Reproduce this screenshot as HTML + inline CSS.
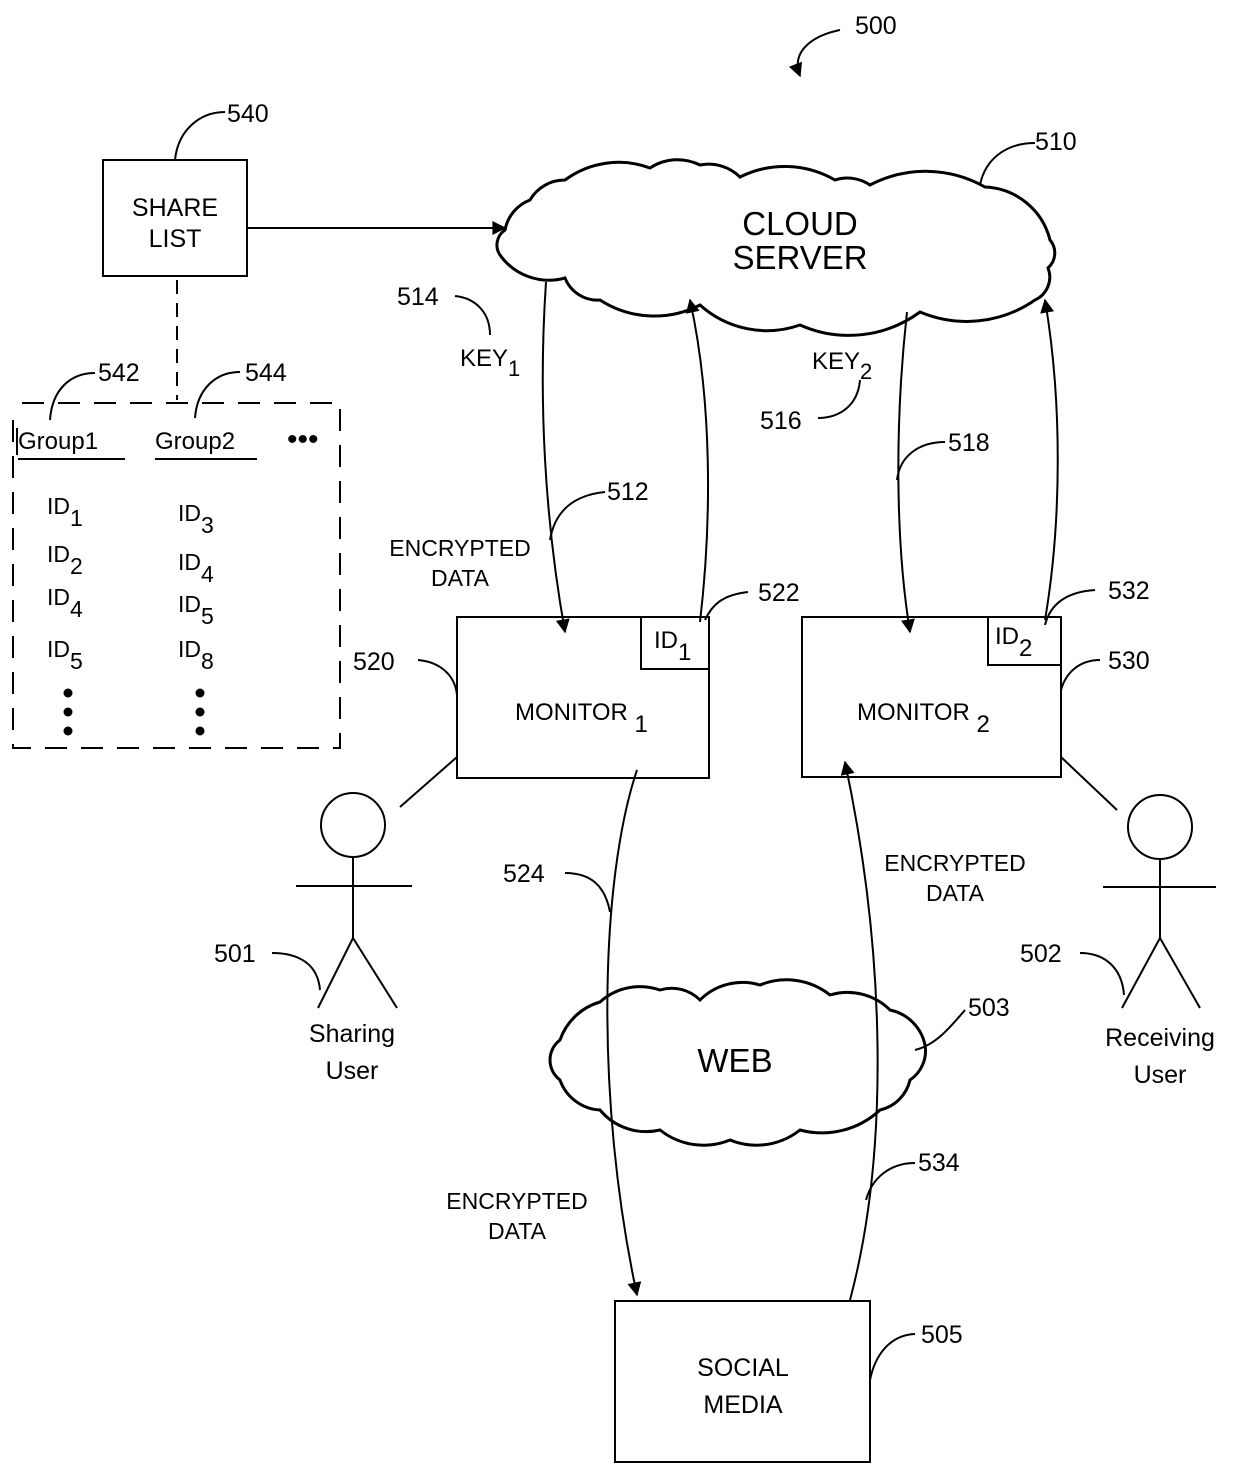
<!DOCTYPE html>
<html><head><meta charset="utf-8"><style>
html,body{margin:0;padding:0;background:#fff}
svg{display:block}
text{font-family:"Liberation Sans",sans-serif;fill:#000}
</style></head><body>
<svg width="1240" height="1477" viewBox="0 0 1240 1477" xmlns="http://www.w3.org/2000/svg">
<defs>
<marker id="ahb" viewBox="0 0 10 10" refX="9" refY="5" markerWidth="22" markerHeight="14" markerUnits="userSpaceOnUse" orient="auto">
<path d="M0,0 L10,5 L0,10 Z" fill="#000"/></marker>
</defs>
<g fill="none" stroke="#000" stroke-width="2">
<path d="M840,30 C815,35 790,50 800,76" marker-end="url(#ahb)"/>
<rect x="103" y="160" width="144" height="116"/>
<path d="M175,160 C178,130 200,112 225,112"/>
<path d="M247,228 L505,228" marker-end="url(#ahb)"/>
<path d="M177,280 L177,400" stroke-dasharray="14,9"/>
<path d="M22,403 L340,403 L340,748 L13,748 L13,420" stroke-dasharray="22,14"/>
<path d="M18,459 L125,459 M155,459 L257,459"/>
<path d="M17,428 L17,455" />
<path d="M50,420 C52,390 70,373 95,373"/>
<path d="M195,418 C197,390 215,372 240,372"/>
<path stroke-width="3" d="M505,230 A40,40 0 0 1 530,200 A40,40 0 0 1 565,180 A90,90 0 0 1 650,168 A50,50 0 0 1 700,165 A45,45 0 0 1 740,177 A100,100 0 0 1 835,180 A40,40 0 0 1 870,185 A120,120 0 0 1 985,187 A70,70 0 0 1 1050,240 A20,20 0 0 1 1048,268 A25,25 0 0 1 1035,300 A120,120 0 0 1 920,312 A120,120 0 0 1 800,325 A100,100 0 0 1 700,305 A100,100 0 0 1 600,300 A35,35 0 0 1 565,278 A60,60 0 0 1 500,255 A18,18 0 0 1 505,230 Z"/>
<path d="M980,185 C985,160 1005,143 1035,143"/>
<path d="M546,282 C538,400 545,520 565,632" marker-end="url(#ahb)"/>
<path d="M700,622 C712,520 712,400 690,300" marker-end="url(#ahb)"/>
<path d="M907,312 C895,420 895,540 910,632" marker-end="url(#ahb)"/>
<path d="M1045,620 C1062,520 1062,400 1045,300" marker-end="url(#ahb)"/>
<path d="M455,296 C475,298 490,312 490,335"/>
<path d="M818,418 C840,418 858,405 860,380"/>
<path d="M945,442 C920,442 900,455 897,480"/>
<path d="M605,492 C575,495 555,510 550,540"/>
<path d="M705,620 C712,605 722,595 748,592"/>
<path d="M1045,625 C1050,605 1065,592 1095,590"/>
<path d="M418,660 C440,662 455,675 457,695"/>
<path d="M1061,690 C1066,672 1080,660 1100,660"/>
<rect x="457" y="617" width="252" height="161"/>
<rect x="641" y="617" width="68" height="52"/>
<rect x="802" y="617" width="259" height="160"/>
<rect x="988" y="617" width="73" height="48"/>
<path d="M400,807 L457,757 M1061,757 L1117,810"/>
<circle cx="353" cy="825" r="32"/>
<path d="M353,857 L353,938 M296,886 L412,886 M353,938 L318,1008 M353,938 L397,1008"/>
<circle cx="1160" cy="827" r="32"/>
<path d="M1160,859 L1160,938 M1103,887 L1216,887 M1160,938 L1122,1008 M1160,938 L1200,1008"/>
<path d="M272,953 C300,953 318,965 320,990"/>
<path d="M1080,953 C1105,953 1122,968 1124,995"/>
<path stroke-width="3" d="M560,1040 A60,60 0 0 1 600,1002 A60,60 0 0 1 660,990 A40,40 0 0 1 700,1000 A60,60 0 0 1 760,985 A70,70 0 0 1 830,995 A60,60 0 0 1 890,1010 A45,45 0 0 1 925,1045 A35,35 0 0 1 910,1080 A40,40 0 0 1 880,1110 A85,85 0 0 1 800,1130 A70,70 0 0 1 730,1140 A70,70 0 0 1 660,1130 A60,60 0 0 1 600,1110 A45,45 0 0 1 560,1080 A25,25 0 0 1 560,1040 Z"/>
<path d="M915,1050 C935,1045 948,1030 965,1010"/>
<path d="M637,770 C600,880 595,1100 637,1295" marker-end="url(#ahb)"/>
<path d="M850,1300 C890,1150 885,950 845,762" marker-end="url(#ahb)"/>
<path d="M565,873 C590,873 605,885 610,912"/>
<path d="M915,1163 C890,1163 872,1178 866,1200"/>
<rect x="615" y="1301" width="255" height="161"/>
<path d="M870,1380 C875,1355 890,1335 915,1334"/>
</g>
<g font-size="25">
<text x="855" y="34">500</text>
<text x="227" y="122">540</text>
<text x="1035" y="150">510</text>
<text x="397" y="305">514</text>
<text x="760" y="429">516</text>
<text x="948" y="451">518</text>
<text x="607" y="500">512</text>
<text x="758" y="601">522</text>
<text x="1108" y="599">532</text>
<text x="353" y="670">520</text>
<text x="1108" y="669">530</text>
<text x="503" y="882">524</text>
<text x="214" y="962">501</text>
<text x="1020" y="962">502</text>
<text x="968" y="1016">503</text>
<text x="918" y="1171">534</text>
<text x="921" y="1343">505</text>
<text x="98" y="381">542</text>
<text x="245" y="381">544</text>
</g>
<g font-size="25" text-anchor="middle">
<text x="175" y="216">SHARE</text>
<text x="175" y="247">LIST</text>
<text x="352" y="1042">Sharing</text>
<text x="352" y="1079">User</text>
<text x="1160" y="1046">Receiving</text>
<text x="1160" y="1083">User</text>
<text x="743" y="1376">SOCIAL</text>
<text x="743" y="1413">MEDIA</text>
</g>
<g font-size="33" text-anchor="middle">
<text x="800" y="235">CLOUD</text>
<text x="800" y="269">SERVER</text>
<text x="735" y="1072">WEB</text>
</g>
<g font-size="24">
<text x="18" y="449">Group1</text>
<text x="155" y="449">Group2</text>
<text x="287" y="449" font-size="30">•••</text>
<text x="460" y="366">KEY<tspan font-size="22" dy="10">1</tspan></text>
<text x="812" y="369">KEY<tspan font-size="22" dy="10">2</tspan></text>
<text x="515" y="720">MONITOR<tspan font-size="24" dy="12"> 1</tspan></text>
<text x="857" y="720">MONITOR<tspan font-size="24" dy="12"> 2</tspan></text>
<text x="654" y="648">ID<tspan dy="12">1</tspan></text>
<text x="995" y="644">ID<tspan dy="12">2</tspan></text>
</g>
<g font-size="23" text-anchor="middle">
<text x="460" y="556">ENCRYPTED</text>
<text x="460" y="586">DATA</text>
<text x="955" y="871">ENCRYPTED</text>
<text x="955" y="901">DATA</text>
<text x="517" y="1209">ENCRYPTED</text>
<text x="517" y="1239">DATA</text>
</g>
<g font-size="23">
<text x="47" y="514">ID<tspan dy="12">1</tspan></text>
<text x="47" y="562">ID<tspan dy="12">2</tspan></text>
<text x="47" y="605">ID<tspan dy="12">4</tspan></text>
<text x="47" y="657">ID<tspan dy="12">5</tspan></text>
<text x="178" y="521">ID<tspan dy="12">3</tspan></text>
<text x="178" y="570">ID<tspan dy="12">4</tspan></text>
<text x="178" y="612">ID<tspan dy="12">5</tspan></text>
<text x="178" y="657">ID<tspan dy="12">8</tspan></text>
</g>
<g fill="#000">
<circle cx="68" cy="693" r="4.5"/><circle cx="68" cy="712" r="4.5"/><circle cx="68" cy="731" r="4.5"/>
<circle cx="200" cy="693" r="4.5"/><circle cx="200" cy="712" r="4.5"/><circle cx="200" cy="731" r="4.5"/>
</g>
</svg>
</body></html>
